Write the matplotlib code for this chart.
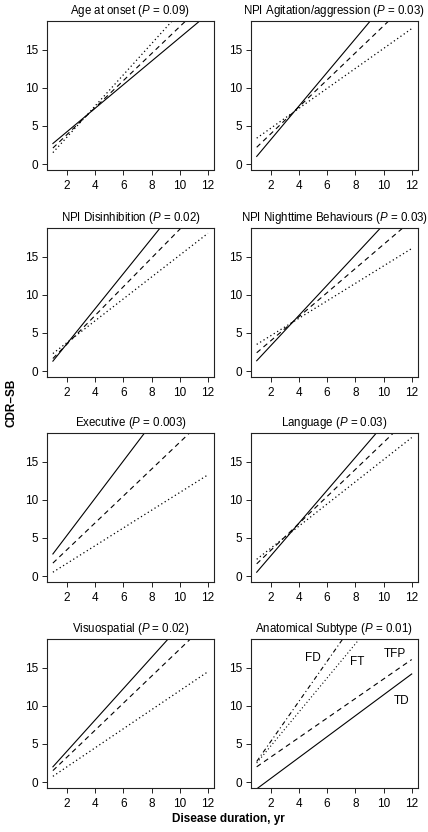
import matplotlib
matplotlib.use('Agg')
import matplotlib.pyplot as plt

plt.rcParams['font.family'] = ['Liberation Sans', 'DejaVu Sans']
plt.rcParams['mathtext.fontset'] = 'custom'
plt.rcParams['mathtext.rm'] = 'Liberation Sans'
plt.rcParams['mathtext.it'] = 'Liberation Sans:italic'

# disease duration (yr) at the two ends of each fitted line
x_ends = [1, 12]

titles = ['Age at onset', 'NPI Agitation/aggression',
          'NPI Disinhibition', 'NPI Nighttime Behaviours',
          'Executive', 'Language',
          'Visuospatial', 'Anatomical Subtype']
pvals = ['0.09', '0.03', '0.02', '0.03', '0.003', '0.03', '0.02', '0.01']

# CDR-SB at x=1 and x=12 for solid / dashed / dotted lines
solid = [[2.7, 19.7], [1.0, 25.3], [1.3, 26.6], [1.35, 23.2],
         [2.9, 29.8], [0.5, 24.2], [2.0, 24.6]]
dashed = [[2.1, 21.6], [2.2, 21.7], [1.65, 22.4], [2.4, 19.8],
          [1.7, 21.1], [1.6, 21.1], [1.5, 21.0]]
dotted = [[1.5, 24.0], [3.4, 17.8], [2.3, 18.1], [3.5, 16.1],
          [0.5, 13.3], [2.2, 18.2], [0.75, 14.5]]

# anatomical subtypes
subtypes = ['TD', 'TFP', 'FT', 'FD']
subtype_vals = [[-0.9, 14.2], [2.0, 16.1], [2.5, 27.1], [2.7, 31.7]]
subtype_label_pos = [[11.3, 10.6], [10.8, 16.8], [8.1, 15.8], [5.0, 16.3]]

ls_solid = '-'
ls_dash = (0, (4.5, 3.5))
ls_dot = (0, (1, 2.2))
ls_dashdot = (0, (4, 2.5, 1, 2.5))
subtype_styles = [ls_solid, ls_dash, ls_dot, ls_dashdot]

W, H = 428, 832
fig = plt.figure(figsize=(W / 100, H / 100), dpi=100)

lefts = [46.7, 250.5]
width = 167.4
tops = [21, 228, 433, 639]
height = 148.5


def style_axes(ax):
    ax.set_xlim(0.56, 12.44)
    ax.set_ylim(-0.72, 18.8)
    ax.set_xticks([2, 4, 6, 8, 10, 12])
    ax.set_yticks([0, 5, 10, 15])
    ax.tick_params(direction='out', length=3.6, width=0.7, labelsize=8.5,
                   pad=2.5, color='#222222')
    ax.tick_params(axis='x', pad=4)
    for s in ax.spines.values():
        s.set_linewidth(0.8)
        s.set_color('#222222')


for i in range(8):
    row, col = i // 2, i % 2
    ax = fig.add_axes([lefts[col] / W, 1 - (tops[row] + height) / H,
                       width / W, height / H])
    style_axes(ax)
    ax.set_title(titles[i] + ' ($P$ = ' + pvals[i] + ')', fontsize=8.3,
                 pad=5)
    if i < 7:
        ax.plot(x_ends, solid[i], color='black', lw=0.8, ls=ls_solid)
        ax.plot(x_ends, dashed[i], color='black', lw=0.8, ls=ls_dash)
        ax.plot(x_ends, dotted[i], color='black', lw=0.9, ls=ls_dot)
    else:
        for name, vals, st, pos in zip(subtypes, subtype_vals,
                                       subtype_styles, subtype_label_pos):
            ax.plot(x_ends, vals, color='black', lw=0.8, ls=st)
            ax.text(pos[0], pos[1], name, fontsize=8.5, ha='center',
                    va='center')

fig.text(12 / W, 1 - 403 / H, 'CDR\u2013SB', rotation=90, fontsize=8.5,
         fontweight='bold', ha='center', va='center')
fig.text(228 / W, 1 - 819 / H, 'Disease duration, yr', fontsize=8.5,
         fontweight='bold', ha='center', va='center')

fig.savefig('out.png', dpi=100)
